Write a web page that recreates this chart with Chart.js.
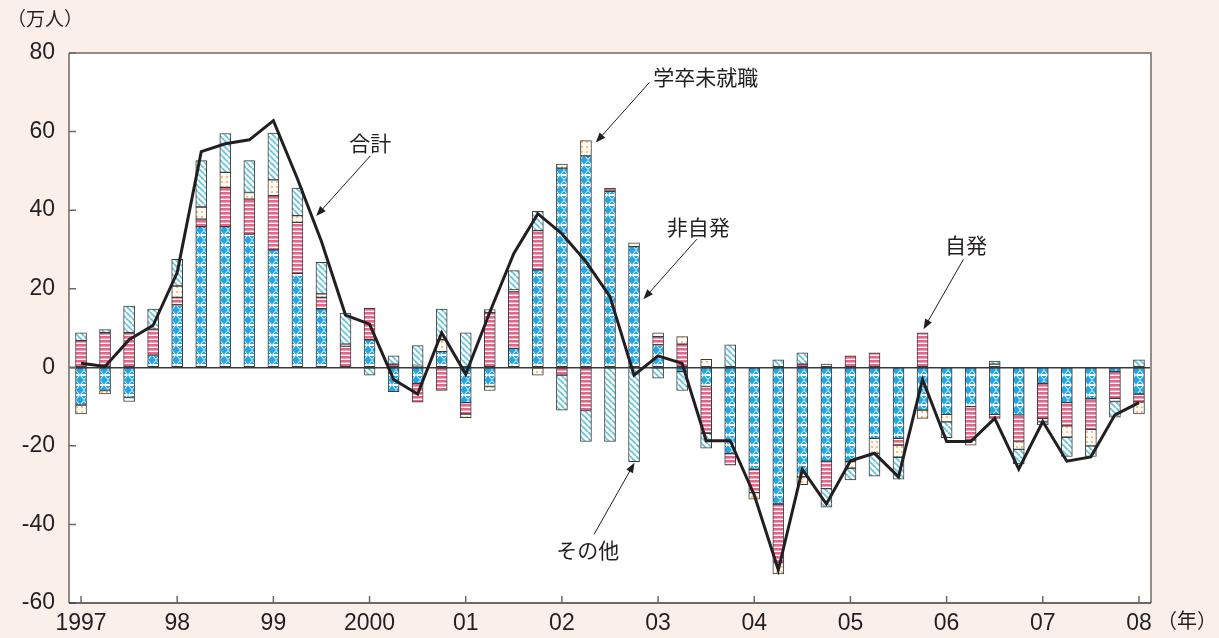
<!DOCTYPE html>
<html>
<head>
<meta charset="utf-8">
<script src="https://cdn.jsdelivr.net/npm/chart.js@4.4.1/dist/chart.umd.min.js"></script>
<style>
  body { margin: 0; background: #fbefea; }
  #wrap { position: relative; width: 1219px; height: 638px; }
</style>
</head>
<body>
<div id="wrap"><canvas id="unemp"></canvas></div>
<script>
// quarterly change in unemployed persons by reason (year-on-year, 10k persons)
var quarters = [
  '1997Q1','1997Q2','1997Q3','1997Q4','1998Q1','1998Q2','1998Q3','1998Q4',
  '1999Q1','1999Q2','1999Q3','1999Q4','2000Q1','2000Q2','2000Q3','2000Q4',
  '2001Q1','2001Q2','2001Q3','2001Q4','2002Q1','2002Q2','2002Q3','2002Q4',
  '2003Q1','2003Q2','2003Q3','2003Q4','2004Q1','2004Q2','2004Q3','2004Q4',
  '2005Q1','2005Q2','2005Q3','2005Q4','2006Q1','2006Q2','2006Q3','2006Q4',
  '2007Q1','2007Q2','2007Q3','2007Q4','2008Q1'
];
var yearLabels = ['1997','98','99','2000','01','02','03','04','05','06','07','08'];

// 非自発
var hijihatsu = [
  -9.6, -5.9, -7.7, 3.1, 15.9, 35.8, 35.8, 33.9,
  29.9, 23.9, 14.9, 0, 7.0, -6.2, -4.1, 4.0,
  -9.0, -4.9, 4.8, 24.8, 50.7, 53.8, 44.8, 30.7,
  5.7, -1.1, -4.9, -21.9, -26.0, -34.8, -27.9, -23.9,
  -24.0, -18.1, -18.1, -10.9, -12.0, -10.0, -12.0, -12.1,
  -4.1, -9.0, -8.0, -1.1, -6.8
];
// 自発
var jihatsu = [
  6.8, 8.8, 8.8, 6.6, 1.9, 1.9, 10.0, 8.9,
  13.8, 13.0, 2.9, 5.4, 8.0, 0.8, -4.8, -5.9,
  -2.9, 13.9, 14.5, 10.0, -2.0, -11.0, 0.8, 0,
  2.1, 5.9, -11.9, -3.0, -5.9, -14.9, 0.8, -7.0,
  2.9, 3.7, -1.7, 8.8, 0, -8.5, -1.0, -6.8,
  -8.9, -5.9, -7.8, -6.8, -2.0
];
// 学卒未就職
var gakusotsu = [
  -2.3, -0.9, -1.0, 0, 2.9, 3.1, 3.8, 1.7,
  4.0, 1.7, 0.9, 0.5, 0, 0, 0.5, 3.0,
  -0.9, -1.0, 0.4, -2.0, 1.0, 3.9, 0, 1.0,
  1.0, 1.9, 2.0, 0, -1.7, -2.9, -2.0, 0.8,
  -1.7, -3.8, -3.1, -2.1, -1.9, -1.3, 0.8, -2.0,
  -0.8, -2.9, -4.2, -0.8, -3.1
];
// その他
var sonota = [
  2.0, 0.8, 6.8, 5.1, 6.8, 11.8, 9.9, 8.1,
  11.9, 7.0, 8.0, 7.9, -2.0, 2.1, 5.0, 7.8,
  8.8, 0.8, 4.9, 4.9, -8.9, -7.9, -18.9, -24.0,
  -2.8, -4.8, -3.8, 5.7, 0, 1.9, 2.9, -4.7,
  -3.0, -5.8, -5.6, 0, -4.0, 0, 0.8, -3.7,
  -0.9, -4.9, -2.7, -4.0, 1.9
];
// 合計
var total = [
  1.0, 0.2, 7.0, 10.7, 24.1, 54.9, 56.9, 57.9,
  62.8, 48.0, 32.0, 13.3, 11.0, -3.1, -6.8, 8.8,
  -1.8, 14.0, 29.0, 39.1, 34.0, 26.9, 18.0, -2.0,
  2.9, 1.0, -18.7, -18.7, -32.5, -51.6, -26.0, -34.8,
  -23.8, -21.9, -27.9, -3.1, -18.9, -18.9, -13.0, -25.9,
  -13.8, -23.9, -22.8, -12.1, -9.0
];

var numFont = 'Liberation Sans, Arial, sans-serif';
var jpFont = '"Noto Sans CJK JP", sans-serif';

function makePattern(w, h, draw) {
  var c = document.createElement('canvas');
  c.width = w; c.height = h;
  var g = c.getContext('2d');
  draw(g, w, h);
  return g.createPattern(c, 'repeat');
}

var bluePat = makePattern(8, 10, function (g, w, h) {
  g.fillStyle = '#22a6e4';
  g.fillRect(0, 0, w, h);
  g.strokeStyle = '#ffffff';
  g.lineWidth = 1;
  g.beginPath();
  g.moveTo(4, 0.5); g.lineTo(7.5, 4.5); g.lineTo(0.5, 4.5); g.closePath();
  g.moveTo(0.5, 5.5); g.lineTo(7.5, 5.5); g.lineTo(4, 9.5); g.closePath();
  g.stroke();
});
var pinkPat = makePattern(4, 4, function (g, w, h) {
  g.fillStyle = '#ffffff';
  g.fillRect(0, 0, w, h);
  g.fillStyle = '#e4678a';
  g.fillRect(0, 0, w, 2.6);
});
var beigePat = makePattern(5, 5, function (g, w, h) {
  g.fillStyle = '#fffaf2';
  g.fillRect(0, 0, w, h);
  g.fillStyle = '#f7c07e';
  g.fillRect(1, 1, 2, 2);
});
var cyanPat = makePattern(6, 6, function (g, w, h) {
  g.fillStyle = '#ffffff';
  g.fillRect(0, 0, w, h);
  g.strokeStyle = '#66c5dc';
  g.lineWidth = 1.8;
  g.beginPath();
  [-6, 0, 6].forEach(function (x0) {
    g.moveTo(x0, 0); g.lineTo(x0 + 6, 6);
  });
  g.stroke();
});

// callouts: text centre and arrow, in (category index, value)
var notes = [
  { text: '合計',       tx: 12.03, ty: 57.1,  x0: 12.03, y0: 53.8,  x1: 9.78,  y1: 38.5 },
  { text: '学卒未就職', tx: 25.98, ty: 73.9,  x0: 23.64, y0: 72.5,  x1: 21.41, y1: 57.2 },
  { text: '非自発',     tx: 25.67, ty: 35.7,  x0: 25.61, y0: 32.6,  x1: 23.39, y1: 17.3 },
  { text: '自発',       tx: 36.81, ty: 31.2,  x0: 36.70, y0: 27.5,  x1: 35.04, y1: 9.7 },
  { text: 'その他',     tx: 21.07, ty: -46.4, x0: 21.34, y0: -42.5, x1: 23.02, y1: -24.3 }
];

var framePlugin = {
  id: 'frame',
  beforeDraw: function (chart) {
    var a = chart.chartArea, ctx = chart.ctx;
    ctx.save();
    ctx.fillStyle = '#ffffff';
    ctx.fillRect(a.left, a.top, a.right - a.left, a.bottom - a.top);
    ctx.restore();
  },
  beforeDatasetsDraw: function (chart) {
    var a = chart.chartArea, ctx = chart.ctx;
    var x = chart.scales.x, y = chart.scales.y;
    ctx.save();
    // top and right edges
    ctx.strokeStyle = '#958b87';
    ctx.lineWidth = 2;
    ctx.beginPath();
    ctx.moveTo(a.left, a.top); ctx.lineTo(a.right, a.top); ctx.lineTo(a.right, a.bottom);
    ctx.stroke();
    // left axis and inward ticks
    ctx.strokeStyle = '#6d6866';
    ctx.lineWidth = 1.5;
    ctx.beginPath();
    ctx.moveTo(a.left, a.top); ctx.lineTo(a.left, a.bottom);
    y.ticks.forEach(function (t) {
      var py = y.getPixelForValue(t.value);
      ctx.moveTo(a.left, py); ctx.lineTo(a.left + 7, py);
    });
    ctx.stroke();
    // bottom axis and year ticks
    ctx.strokeStyle = '#3d3a39';
    ctx.beginPath();
    ctx.moveTo(a.left, a.bottom); ctx.lineTo(a.right, a.bottom);
    ctx.stroke();
    ctx.strokeStyle = '#6d6866';
    ctx.beginPath();
    for (var i = 0; i < quarters.length; i += 4) {
      var px = x.getPixelForValue(i);
      ctx.moveTo(px, a.bottom); ctx.lineTo(px, a.bottom - 7);
    }
    ctx.stroke();
    ctx.restore();
  },
  afterDraw: function (chart) {
    var a = chart.chartArea, ctx = chart.ctx;
    var x = chart.scales.x, y = chart.scales.y;
    ctx.save();
    ctx.fillStyle = '#231f20';
    ctx.font = '19px ' + jpFont;
    ctx.textBaseline = 'middle';
    ctx.textAlign = 'left';
    ctx.fillText('（万人）', 7, 19);
    ctx.font = '20px ' + jpFont;
    ctx.fillText('（年）', a.right + 6, a.bottom + 17);

    ctx.font = '21px ' + jpFont;
    ctx.textAlign = 'center';
    ctx.strokeStyle = '#231f20';
    ctx.lineWidth = 1;
    notes.forEach(function (n) {
      ctx.fillText(n.text, x.getPixelForValue(n.tx), y.getPixelForValue(n.ty));
      var sx = x.getPixelForValue(n.x0), sy = y.getPixelForValue(n.y0);
      var ex = x.getPixelForValue(n.x1), ey = y.getPixelForValue(n.y1);
      var ang = Math.atan2(ey - sy, ex - sx);
      ctx.beginPath();
      ctx.moveTo(sx, sy);
      ctx.lineTo(ex - 6 * Math.cos(ang), ey - 6 * Math.sin(ang));
      ctx.stroke();
      ctx.beginPath();
      ctx.moveTo(ex, ey);
      ctx.lineTo(ex - 10 * Math.cos(ang) + 3.8 * Math.sin(ang), ey - 10 * Math.sin(ang) - 3.8 * Math.cos(ang));
      ctx.lineTo(ex - 10 * Math.cos(ang) - 3.8 * Math.sin(ang), ey - 10 * Math.sin(ang) + 3.8 * Math.cos(ang));
      ctx.closePath();
      ctx.fill();
    });
    ctx.restore();
  }
};

function barSet(label, data, pattern) {
  return {
    type: 'bar',
    label: label,
    data: data,
    backgroundColor: pattern,
    borderColor: '#3c3c3c',
    borderWidth: 1,
    borderSkipped: false,
    barThickness: 11,
    stack: 'reason',
    order: 1
  };
}

new Chart(document.getElementById('unemp'), {
  data: {
    labels: quarters,
    datasets: [
      {
        type: 'line',
        label: '合計',
        data: total,
        borderColor: '#231f20',
        borderWidth: 3,
        pointRadius: 0,
        tension: 0,
        stack: 'total',
        order: 0
      },
      barSet('非自発', hijihatsu, bluePat),
      barSet('自発', jihatsu, pinkPat),
      barSet('学卒未就職', gakusotsu, beigePat),
      barSet('その他', sonota, cyanPat)
    ]
  },
  options: {
    responsive: true,
    maintainAspectRatio: false,
    animation: false,
    layout: { padding: { top: 53, right: 68, bottom: 0, left: 0 } },
    plugins: { legend: { display: false }, tooltip: { enabled: false } },
    scales: {
      x: {
        stacked: true,
        offset: true,
        grid: { display: false, drawTicks: false },
        border: { display: false },
        afterFit: function (s) { s.height = 35; },
        ticks: {
          autoSkip: false,
          maxRotation: 0,
          padding: 7,
          color: '#231f20',
          font: { family: numFont, size: 23 },
          callback: function (v, i) { return i % 4 === 0 ? yearLabels[i / 4] : ''; }
        }
      },
      y: {
        stacked: true,
        min: -60,
        max: 80,
        afterFit: function (s) { s.width = 69; },
        grid: {
          drawTicks: false,
          lineWidth: 1.4,
          color: function (c) { return c.tick && c.tick.value === 0 ? '#3a3a3a' : 'rgba(0,0,0,0)'; }
        },
        border: { display: false },
        ticks: {
          stepSize: 20,
          padding: 14,
          color: '#231f20',
          font: { family: numFont, size: 23 }
        }
      }
    }
  },
  plugins: [framePlugin]
});
</script>
</body>
</html>
